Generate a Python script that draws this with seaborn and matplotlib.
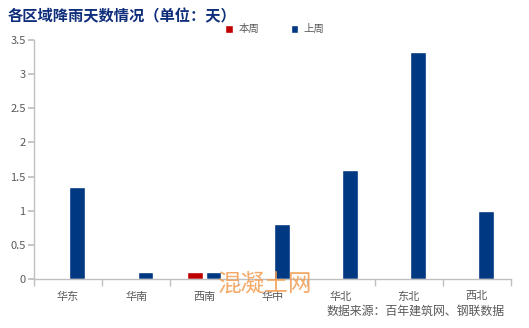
import matplotlib
matplotlib.use("Agg")
import matplotlib.pyplot as plt
import seaborn as sns
import pandas as pd
import numpy as np

categories = ["华东", "华南", "西南", "华中", "华北", "东北", "西北"]
this_week = [0, 0, 0.1, 0, 0, 0, 0]
last_week = [1.35, 0.1, 0.1, 0.8, 1.6, 3.33, 1.0]
series_names = ["本周", "上周"]
yticks = [0, 0.5, 1, 1.5, 2, 2.5, 3, 3.5]
ytick_labels = ["0", "0.5", "1", "1.5", "2", "2.5", "3", "3.5"]

sns.set_theme(style="white")
plt.rcParams['font.family'] = ['Noto Sans CJK SC', 'DejaVu Sans']

df = pd.DataFrame({
    "region": categories * 2,
    "series": [series_names[0]] * len(categories) + [series_names[1]] * len(categories),
    "value": this_week + last_week,
})

fig = plt.figure(figsize=(5.29, 3.28), dpi=100)
ax = fig.add_axes([34 / 529, 1 - 279 / 328, (511 - 34) / 529, (279 - 40) / 328])

palette = {"本周": "#C00000", "上周": "#003882"}
sns.barplot(data=df, x="region", y="value", hue="series", palette=palette,
            order=categories, hue_order=series_names, width=0.54, ax=ax,
            saturation=1, legend=True)

# shrink bars to leave gap between pairs
for patch in ax.patches:
    w = patch.get_width()
    if w > 0:
        neww = 0.23
        cx = patch.get_x() + w / 2
        patch.set_width(neww)
        patch.set_x(cx - neww / 2)

ax.set_xlim(-0.5, len(categories) - 0.5)
ax.set_ylim(0, 3.5)
ax.set_yticks(yticks)
ax.set_yticklabels(ytick_labels)
ax.set_xlabel("")
ax.set_ylabel("")

for s in ["top", "right"]:
    ax.spines[s].set_visible(False)
for s in ["left", "bottom"]:
    ax.spines[s].set_color("#BFBFBF")
    ax.spines[s].set_linewidth(1)

ax.tick_params(axis="y", which="major", length=4, color="#BFBFBF", labelsize=8,
               labelcolor="#595959", direction="out", left=True, pad=2)
ax.tick_params(axis="x", which="major", length=0, labelsize=8, labelcolor="#595959", pad=9)
ax.set_xticks(np.arange(-0.5, len(categories)), minor=True)
ax.tick_params(axis="x", which="minor", length=5, color="#BFBFBF", direction="out", bottom=True)

leg = ax.legend(loc="upper center", bbox_to_anchor=(0.505, 1.105), ncol=2, frameon=False,
                fontsize=7.5, handlelength=0.75, handleheight=0.75, columnspacing=3.0,
                handletextpad=0.5, labelcolor="#595959")

fig.text(8 / 529, 1 - 16 / 328, "各区域降雨天数情况（单位：天）", fontsize=11,
         fontweight="bold", color="#0E2D7A", va="center", ha="left")

fig.text(505 / 529, 1 - 311 / 328, "数据来源：百年建筑网、钢联数据", fontsize=8.6,
         color="#595959", ha="right", va="center")

fig.text(265 / 529, 1 - 285 / 328, "混凝土网", fontsize=17, color="#F39C50",
         alpha=0.85, ha="center", va="center", zorder=10)

fig.savefig("out.png", dpi=100)
